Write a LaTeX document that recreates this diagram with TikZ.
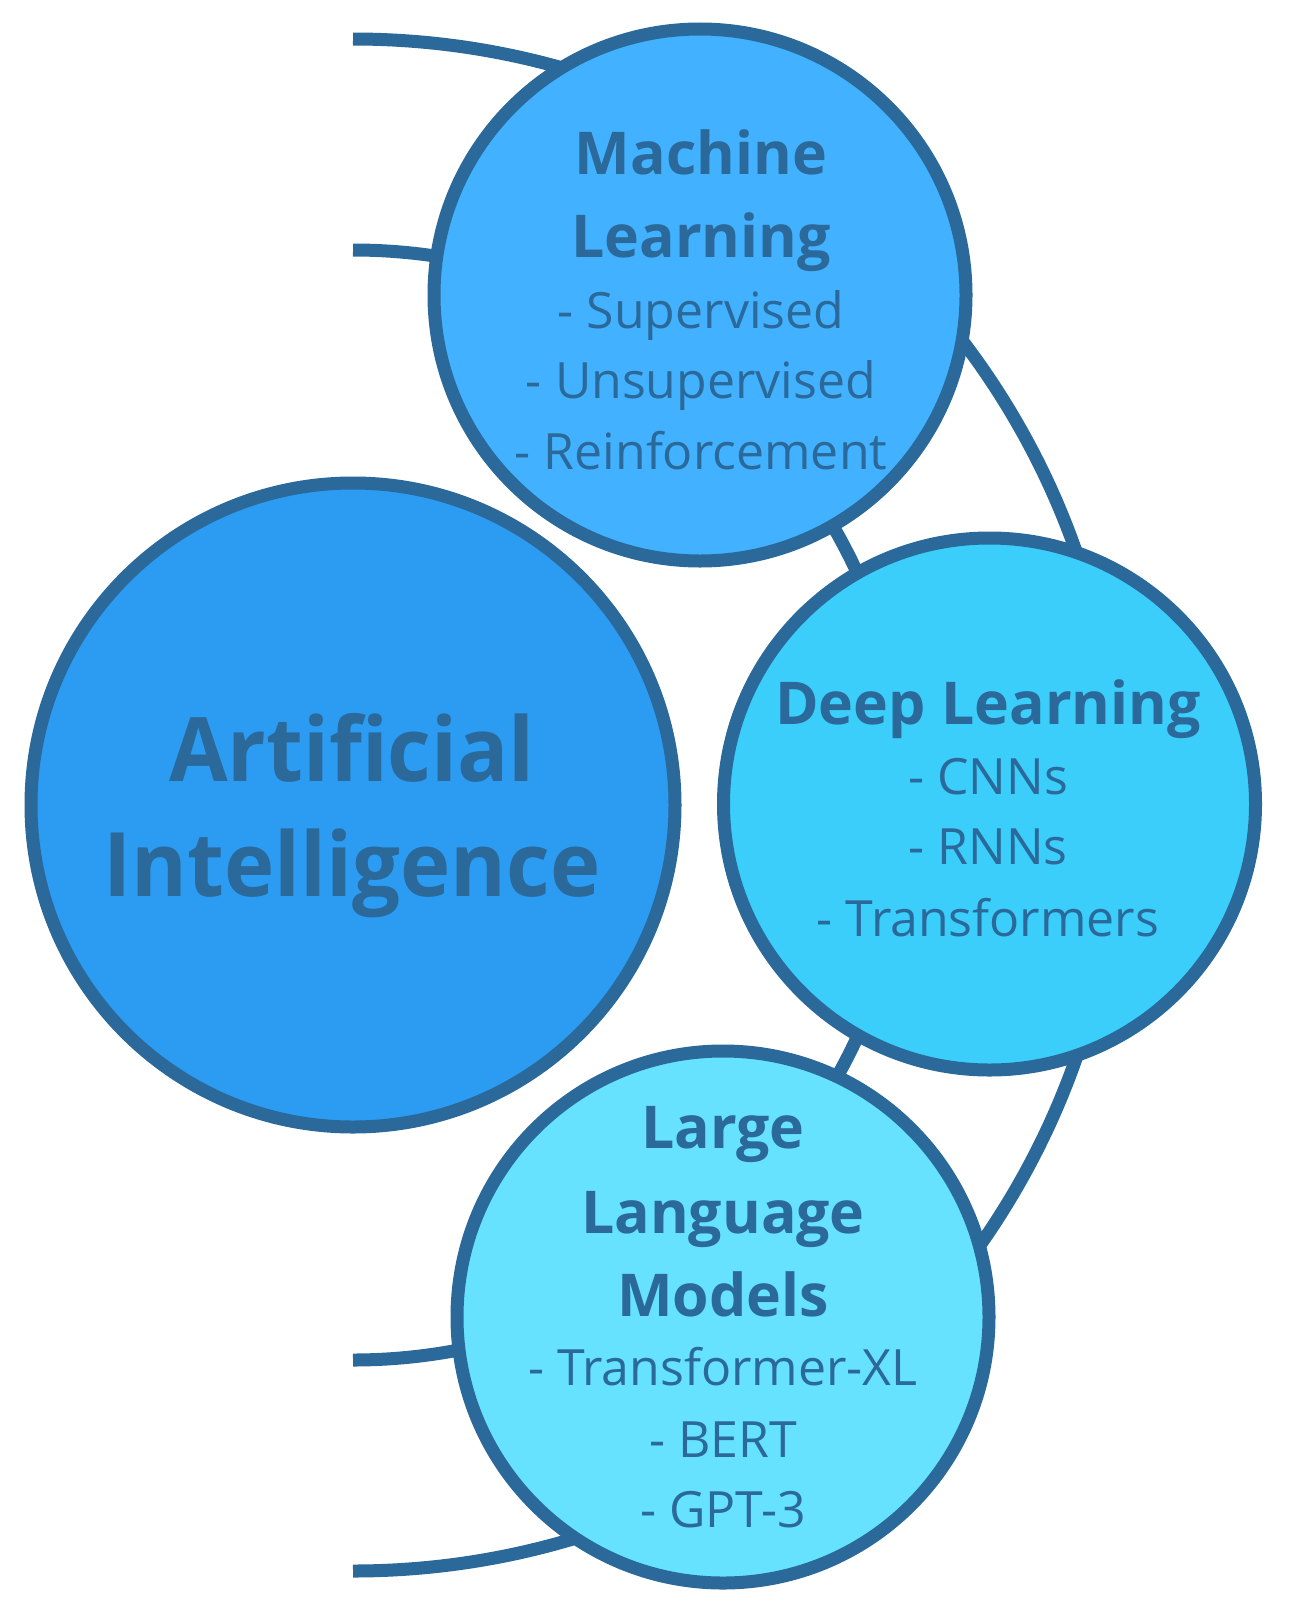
\documentclass[tikz,border=0pt]{standalone}
\usepackage{fontspec}
\setmainfont{Open Sans}
\newfontfamily\aifont[FakeStretch=0.955]{Open Sans}
\definecolor{edge}{RGB}{42,105,153}
\definecolor{aifill}{RGB}{44,155,242}
\definecolor{mlfill}{RGB}{66,177,255}
\definecolor{dlfill}{RGB}{59,206,250}
\definecolor{llmfill}{RGB}{102,226,255}
\tikzset{
  ring/.style={circle, draw=edge, line width=13pt, inner sep=0pt, outer sep=0pt, minimum size=#1},
  orbit/.style={draw=edge, line width=13pt},
  hd/.style={anchor=base, text=edge, font=\bfseries\fontsize{59}{70}\selectfont, inner sep=0pt},
  itm/.style={anchor=base, text=edge, font=\fontsize{50}{60}\selectfont, inner sep=0pt},
  big/.style={anchor=base, text=edge, font=\aifont\bfseries\fontsize{89}{110}\selectfont, inner sep=0pt}
}
\begin{document}
\begin{tikzpicture}[x=1pt,y=-1pt]
\useasboundingbox (0,0) rectangle (1288,1611);
% orbits behind the circles
\coordinate (outerstart) at (353,39);
\coordinate (innerstart) at (353,250);
\draw[orbit] (outerstart) arc[start angle=90, end angle=-90, radius=766pt];
\draw[orbit] (innerstart) arc[start angle=90, end angle=-90, radius=555pt];
% circles
\node[ring=644pt, fill=aifill] (ai) at (353,805) {};
\node[ring=532pt, fill=mlfill] (ml) at (700,295) {};
\node[ring=532pt, fill=dlfill] (dl) at (989.5,804) {};
\node[ring=532pt, fill=llmfill] (llm) at (723,1317) {};
% AI text
\node[big] (ai1) at (352,781) {Artificial};
\node[big] (ai2) at (352,896) {Intelligence};
% ML text
\node[hd] (ml1) at (701,174) {Machine};
\node[hd] (ml2) at (701,257) {Learning};
\node[itm] (ml3) at (701,328) {- Supervised};
\node[itm] (ml4) at (701,398) {- Unsupervised};
\node[itm] (ml5) at (701,469) {- Reinforcement};
% DL text
\node[hd] (dl1) at (988,724) {Deep Learning};
\node[itm] (dl2) at (988,794) {- CNNs};
\node[itm] (dl3) at (988,864) {- RNNs};
\node[itm] (dl4) at (988,936) {- Transformers};
% LLM text
\node[hd] (llm1) at (723,1148) {Large};
\node[hd] (llm2) at (723,1233) {Language};
\node[hd] (llm3) at (723,1316) {Models};
\node[itm] (llm4) at (723,1385) {- Transformer-XL};
\node[itm] (llm5) at (723,1457) {- BERT};
\node[itm] (llm6) at (723,1527) {- GPT-3};
\end{tikzpicture}
\end{document}
